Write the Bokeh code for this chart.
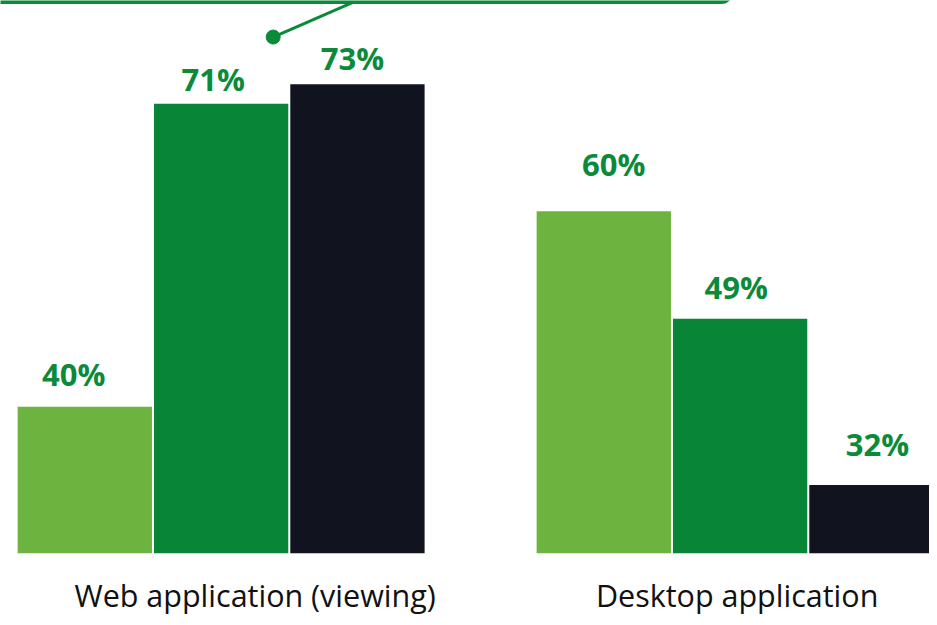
from bokeh.plotting import figure
from bokeh.models import ColumnDataSource, Range1d, BoxAnnotation
from bokeh.core.properties import value
from bokeh.embed import file_html
from bokeh.resources import INLINE

# ---- data ----
categories = ["Web application (viewing)", "Desktop application"]
series_a = [40, 60]   # light green
series_b = [71, 49]   # green
series_c = [73, 32]   # dark
series_colors = ["#6db33f", "#088537", "#11131f"]
label_color = "#0b8a3a"
baseline = 25

# ---- style (pixel tweaks) ----
label_dx = [[-11, 10], [-8, -4], [-5, 1]]
label_dy = [[-33, -47], [-25, -32], [-26, -41]]
cat_dx = [34, -3]

pitch = 0.26266
bar_w = 0.2588

p = figure(width=929, height=617, output_backend="svg", toolbar_location=None,
           x_range=Range1d(-0.4251, 1.3649), y_range=Range1d(18.43, 81.57),
           min_border=0, min_border_left=0, min_border_right=0,
           min_border_top=0, min_border_bottom=0)
p.axis.visible = False
p.grid.visible = False
p.outline_line_color = None
p.background_fill_color = "white"
p.border_fill_color = "white"

all_series = [series_a, series_b, series_c]
for s, vals in enumerate(all_series):
    xs = [g + (s - 1) * pitch for g in range(len(categories))]
    src = ColumnDataSource(dict(x=xs, top=vals, bottom=[baseline] * len(vals),
                                lab=[f"{v}%" for v in vals],
                                dx=label_dx[s], dy=label_dy[s]))
    p.vbar(x="x", top="top", bottom="bottom", width=bar_w, source=src,
           fill_color=series_colors[s], line_color=None)
    p.text(x="x", y="top", text="lab", source=src, x_offset="dx", y_offset="dy",
           text_align="center", text_baseline="alphabetic",
           text_font=value("Open Sans"), text_font_style="bold",
           text_font_size="31px", text_color=label_color)

cat_src = ColumnDataSource(dict(x=list(range(len(categories))),
                                y=[baseline] * len(categories),
                                t=categories, dx=cat_dx))
p.text(x="x", y="y", text="t", source=cat_src, x_offset="dx", y_offset=42,
       text_align="center", text_baseline="alphabetic",
       text_font=value("Open Sans"), text_font_size="30.5px", text_color="#111111")

# ---- callout decoration (box edge, leader line and dot) ----
callout_box = dict(left=-1.0, right=0.983, bottom=81.41, top=95)
callout_line_x = [0.1003, 0.2550]
callout_line_y = [77.83, 81.41]
p.add_layout(BoxAnnotation(left=callout_box["left"], right=callout_box["right"],
                           bottom=callout_box["bottom"], top=callout_box["top"],
                           fill_alpha=0, line_color=label_color, line_alpha=1.0,
                           line_width=4, border_radius=10))
p.line(callout_line_x, callout_line_y, line_color=label_color, line_width=3)
p.scatter([callout_line_x[0]], [callout_line_y[0]], size=14, color=label_color)

open("out.html", "w").write(file_html(p, INLINE))
